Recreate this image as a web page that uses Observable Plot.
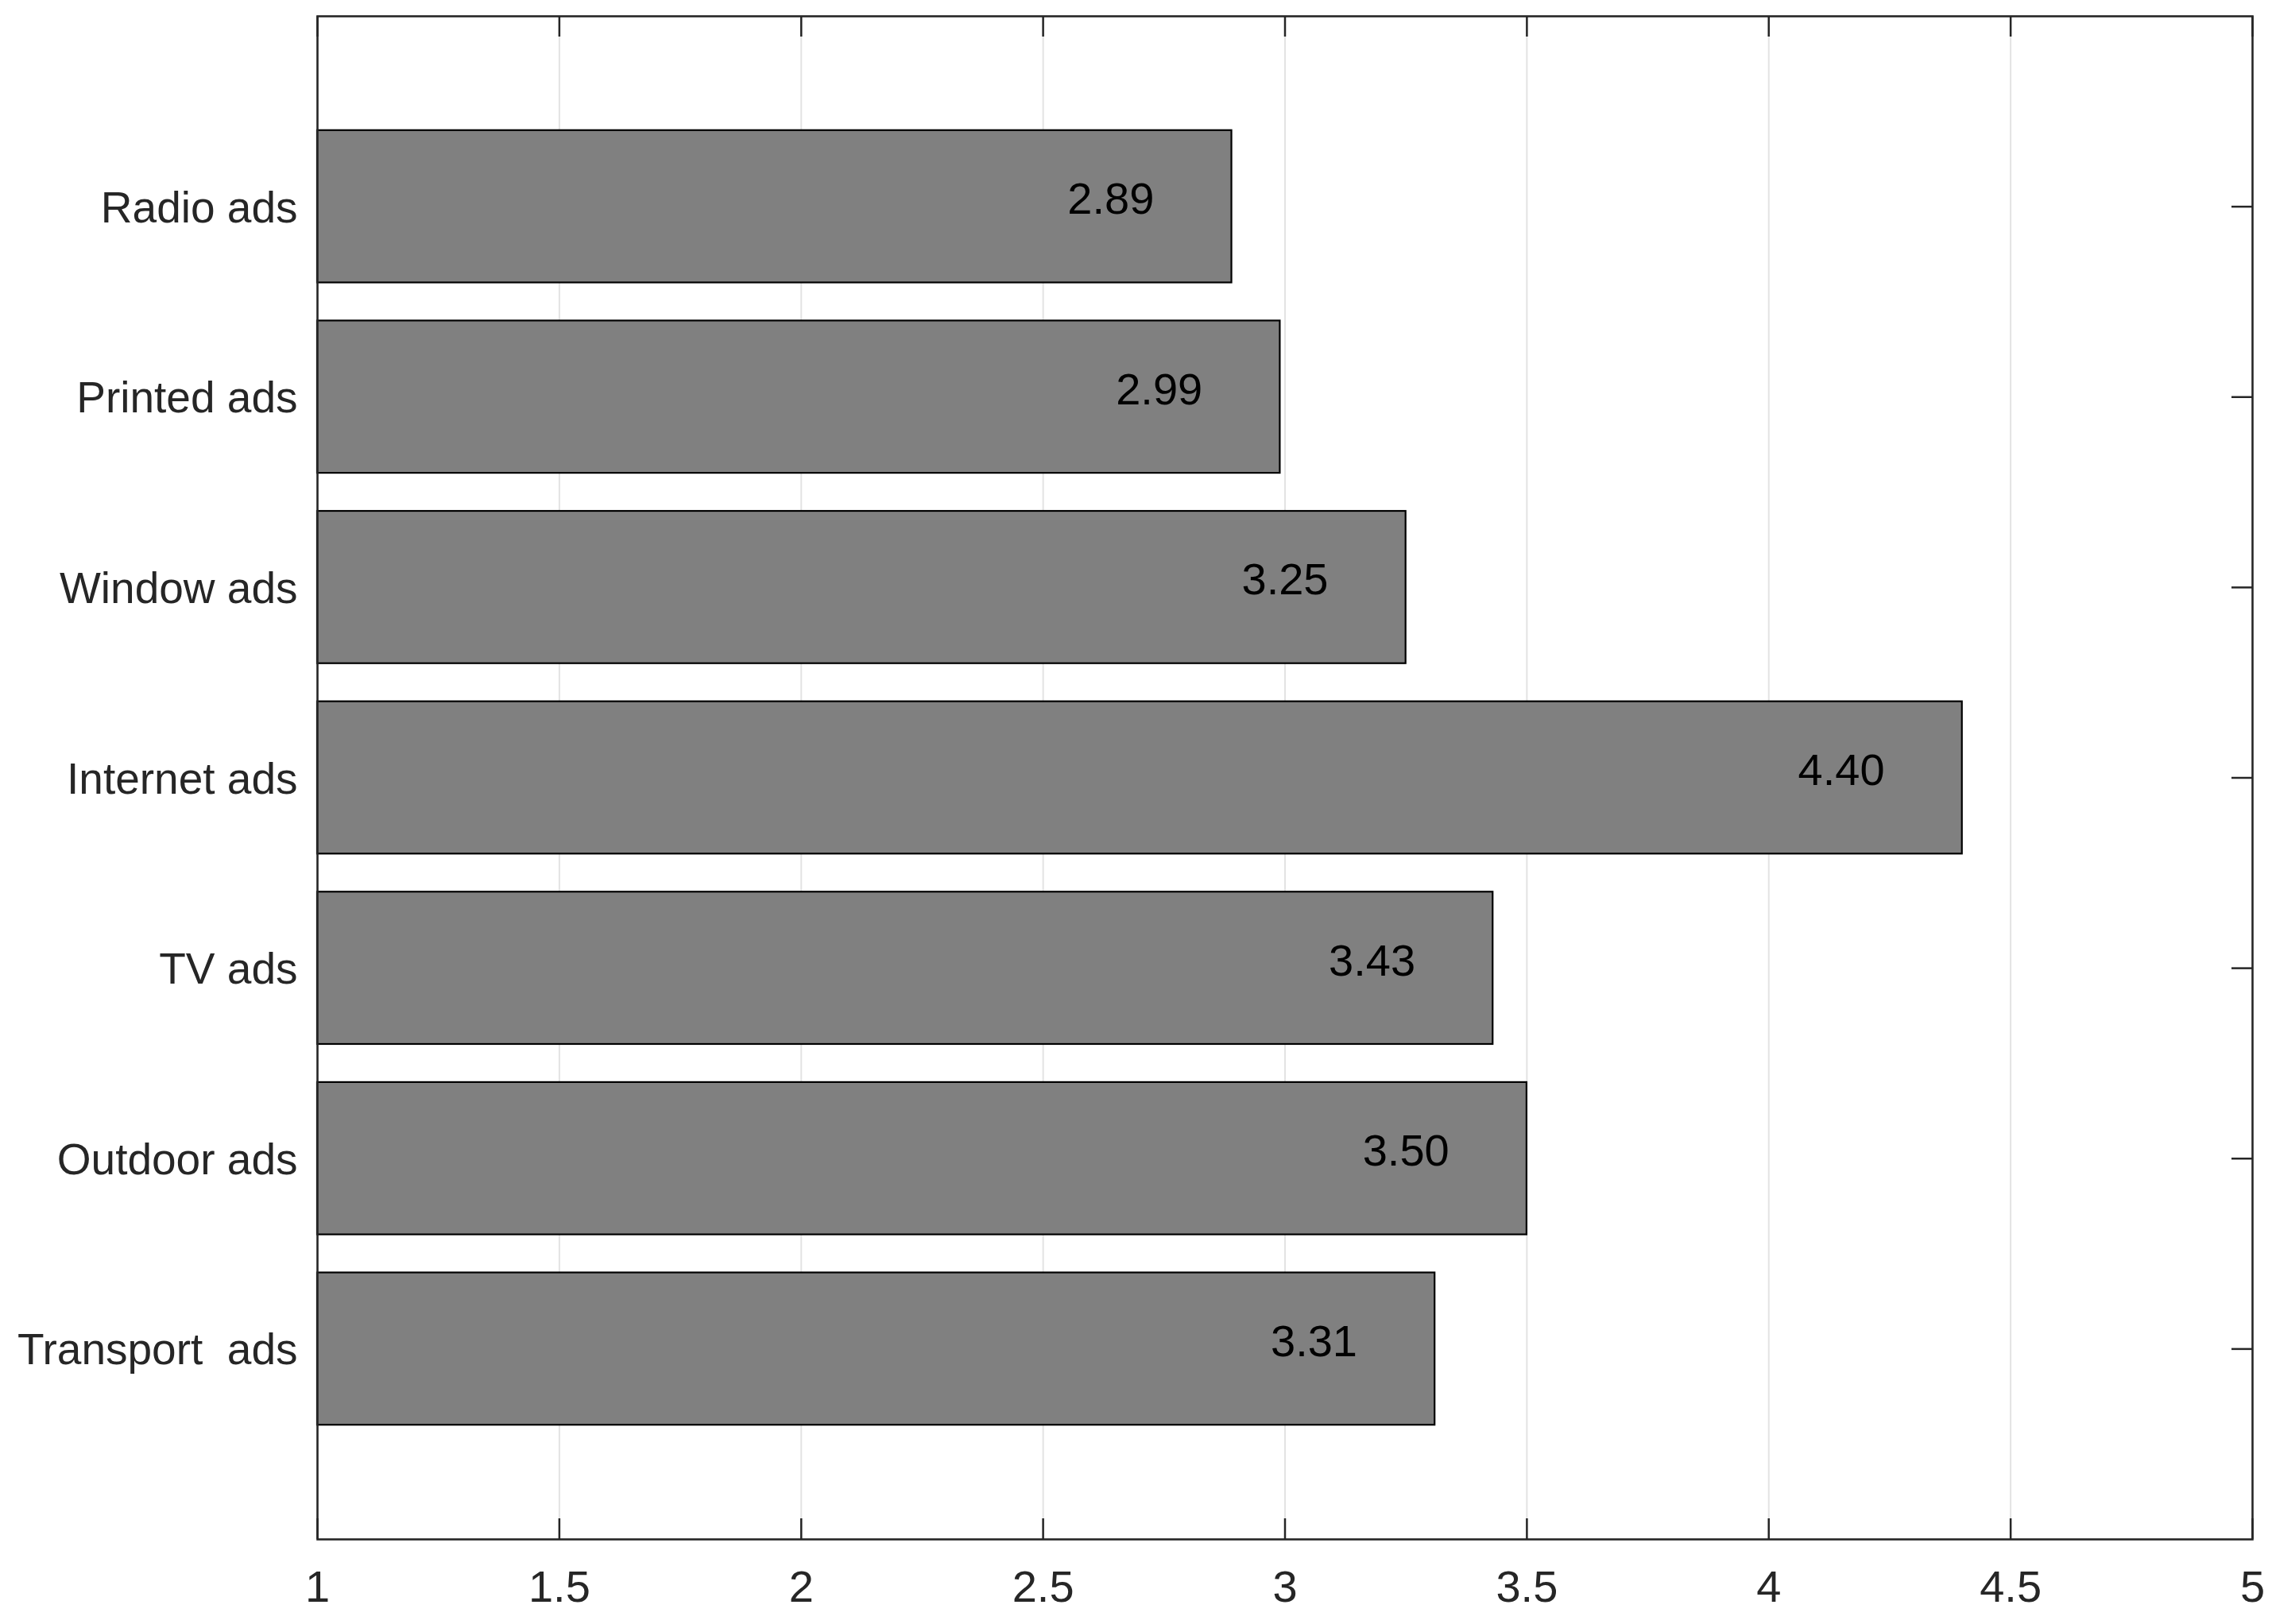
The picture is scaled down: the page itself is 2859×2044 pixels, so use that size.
<!DOCTYPE html>
<html>
<head>
<meta charset="utf-8">
<script src="https://cdn.jsdelivr.net/npm/d3@7"></script>
<script src="https://cdn.jsdelivr.net/npm/@observablehq/plot@0.6"></script>
<style>
  html, body { margin: 0; padding: 0; background: #fff; }
  #chart svg { display: block; white-space: pre; }
</style>
</head>
<body>
<div id="chart"></div>
<script>
const categories = ["Radio ads", "Printed ads", "Window ads", "Internet ads", "TV ads", "Outdoor ads", "Transport  ads"];
const values = [2.89, 2.99, 3.25, 4.40, 3.43, 3.50, 3.31];
const xTicks = [1, 1.5, 2, 2.5, 3, 3.5, 4, 4.5, 5];
const xTickLabels = ["1", "1.5", "2", "2.5", "3", "3.5", "4", "4.5", "5"];
const baseline = 1;

const data = categories.map((c, i) => ({category: c, value: values[i]}));

const W = 2859, H = 2044;
const mTop = 20, mBottom = 107, mLeft = 399, mRight = 25;
const plotW = W - mLeft - mRight, plotH = H - mTop - mBottom;
const tickLen = 26;
const font = "Liberation Sans, Arial, Helvetica, sans-serif";
const axisColor = "#262626";

const chart = Plot.plot({
  width: W,
  height: H,
  marginTop: mTop,
  marginBottom: mBottom,
  marginLeft: mLeft,
  marginRight: mRight,
  style: {fontFamily: font, background: "#fff", color: axisColor},
  x: {domain: [1, 5], round: false},
  y: {domain: categories, paddingInner: 0.2, paddingOuter: 0.6, round: false},
  marks: [
    Plot.ruleX(xTicks.slice(1, -1), {x: d => d, stroke: "#e3e3e3", strokeWidth: 2}),
    Plot.barX(data, {
      x1: () => baseline, x2: "value", y: "category",
      fill: "#808080", stroke: "#000", strokeWidth: 2.2
    }),
    Plot.text(data, {
      x: d => d.value - 0.25, y: "category",
      text: d => d.value.toFixed(2),
      fontSize: 56, fill: "#000", dy: -9, textAnchor: "middle"
    }),
    Plot.axisX({
      ticks: xTicks, tickSize: 0, tickPadding: 39,
      tickFormat: (d, i) => xTickLabels[xTicks.indexOf(d)],
      fontSize: 56, label: null, fill: axisColor
    }),
    Plot.axisY({
      tickSize: 0, tickPadding: 25, fontSize: 55, dy: 2, label: null, fill: axisColor
    }),
    // inward ticks: bottom, top, right
    Plot.ruleX(xTicks, {x: d => d, insetTop: plotH - tickLen, stroke: axisColor, strokeWidth: 2.5}),
    Plot.ruleX(xTicks, {x: d => d, insetBottom: plotH - tickLen, stroke: axisColor, strokeWidth: 2.5}),
    Plot.ruleY(categories, {y: d => d, insetLeft: plotW - tickLen, stroke: axisColor, strokeWidth: 2.5}),
    Plot.frame({stroke: axisColor, strokeWidth: 2.6})
  ]
});

document.getElementById("chart").appendChild(chart);
</script>
</body>
</html>
